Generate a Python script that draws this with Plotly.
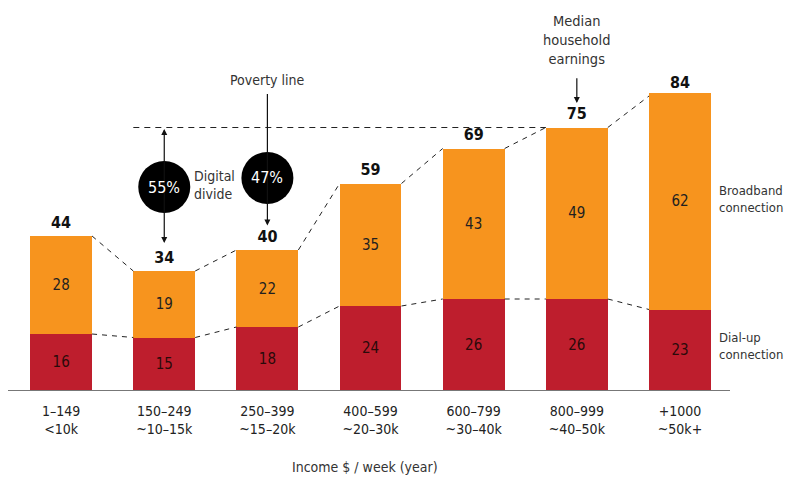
import plotly.graph_objects as go

categories = ["1–149<br><10k", "150–249<br>~10–15k", "250–399<br>~15–20k", "400–599<br>~20–30k",
              "600–799<br>~30–40k", "800–999<br>~40–50k", "+1000<br>~50k+"]
dialup = [16, 15, 18, 24, 26, 26, 23]
broadband = [28, 19, 22, 35, 43, 49, 62]
totals = [44, 34, 40, 59, 69, 75, 84]
poverty_level = 75
divide_labels = ["55%", "47%"]

FONT = "DejaVu Sans Condensed, Liberation Sans Narrow, sans-serif"
ORANGE = "#F7941E"
RED = "#BE1E2D"
BW = 0.6
half = BW / 2
xs = list(range(len(categories)))

fig = go.Figure()
fig.add_trace(go.Bar(x=xs, y=dialup, width=BW, marker=dict(color=RED, line=dict(width=0)),
                     text=[str(v) for v in dialup], textposition="inside", insidetextanchor="middle",
                     textfont=dict(family=FONT, size=15, color="#2a0a0a"), hoverinfo="skip"))
fig.add_trace(go.Bar(x=xs, y=broadband, width=BW, marker=dict(color=ORANGE, line=dict(width=0)),
                     text=[str(v) for v in broadband], textposition="inside", insidetextanchor="middle",
                     textfont=dict(family=FONT, size=15, color="#231F20"), hoverinfo="skip"))

def connectors(vals):
    cx, cy = [], []
    for i in range(len(vals) - 1):
        cx += [i + half, i + 1 - half, None]
        cy += [vals[i], vals[i + 1], None]
    return cx, cy

for vals in (totals, dialup):
    cx, cy = connectors(vals)
    fig.add_trace(go.Scatter(x=cx, y=cy, mode="lines", line=dict(color="#222", width=1, dash="5px,5px"),
                             hoverinfo="skip"))

fig.add_trace(go.Scatter(x=[1 - half, 5 - half], y=[poverty_level, poverty_level], mode="lines",
                         line=dict(color="#222", width=1, dash="6px,5px"), hoverinfo="skip"))

fig.add_trace(go.Scatter(x=xs, y=[t + 1.2 for t in totals], mode="text", text=[str(v) for v in totals],
                         textposition="top center",
                         textfont=dict(family=FONT, size=16, color="#111", weight="bold"),
                         hoverinfo="skip", cliponaxis=False))

annotations = []
shapes = []

annotations.append(dict(x=1, y=totals[1] + 8, ax=1, ay=poverty_level, xref="x", yref="y", axref="x", ayref="y",
                        text="", showarrow=True, arrowhead=2, arrowsize=1, arrowwidth=1.2,
                        arrowside="end+start", arrowcolor="#111"))
annotations.append(dict(x=2, y=totals[2] + 7, ax=2, ay=85, xref="x", yref="y", axref="x", ayref="y",
                        text="", showarrow=True, arrowhead=2, arrowsize=1, arrowwidth=1.2, arrowcolor="#111"))
annotations.append(dict(x=5, y=totals[5] + 7, ax=5, ay=89.5, xref="x", yref="y", axref="x", ayref="y",
                        text="", showarrow=True, arrowhead=2, arrowsize=1, arrowwidth=1.2, arrowcolor="#111"))

for xc, yc, lab in [(1, 58, divide_labels[0]), (2, 60.6, divide_labels[1])]:
    shapes.append(dict(type="circle", xref="x", yref="y", xsizemode="pixel", ysizemode="pixel",
                       xanchor=xc, yanchor=yc, x0=-26, x1=26, y0=-26, y1=26,
                       fillcolor="#000", line=dict(width=0), layer="above"))
    annotations.append(dict(x=xc, y=yc, xref="x", yref="y", text=lab, showarrow=False,
                            font=dict(family=FONT, size=16, color="#fff")))

txt = dict(family=FONT, size=14, color="#333")
leg = dict(family=FONT, size=13, color="#333")
annotations.append(dict(x=1.27, y=58.5, xref="x", yref="y", text="Digital<br>divide", showarrow=False,
                        xanchor="left", align="left", font=txt))
annotations.append(dict(x=2, y=88.6, xref="x", yref="y", text="Poverty line", showarrow=False, font=txt))
annotations.append(dict(x=5, y=100, xref="x", yref="y", text="Median<br>household<br>earnings",
                        showarrow=False, font=dict(family=FONT, size=14.5, color="#333")))
annotations.append(dict(x=6.355, y=54.5, xref="x", yref="y", text="Broadband<br>connection", showarrow=False,
                        xanchor="left", align="left", font=leg))
annotations.append(dict(x=6.355, y=12.5, xref="x", yref="y", text="Dial-up<br>connection", showarrow=False,
                        xanchor="left", align="left", font=leg))
annotations.append(dict(x=0.5, y=-0.22, xref="paper", yref="paper", text="Income $ / week (year)",
                        showarrow=False, yanchor="middle", font=txt, xshift=-4))

fig.update_layout(
    width=787, height=482,
    margin=dict(l=8, r=57, t=40, b=92),
    paper_bgcolor="#fff", plot_bgcolor="#fff",
    barmode="stack", showlegend=False,
    font=dict(family=FONT, size=15, color="#222"),
    xaxis=dict(range=[-0.515, 6.485], tickvals=xs, ticktext=categories, showgrid=False, zeroline=False,
               showline=True, linecolor="#777", linewidth=1, ticks="", ticklabelstandoff=8,
               tickfont=dict(family=FONT, size=14, color="#222"), fixedrange=True),
    yaxis=dict(range=[0, 100], visible=False, showgrid=False, zeroline=False, fixedrange=True),
    annotations=annotations, shapes=shapes,
)

fig.write_html("out.html", config={"displayModeBar": False},
               post_script="document.body.style.margin='0';document.body.style.padding='0';")
